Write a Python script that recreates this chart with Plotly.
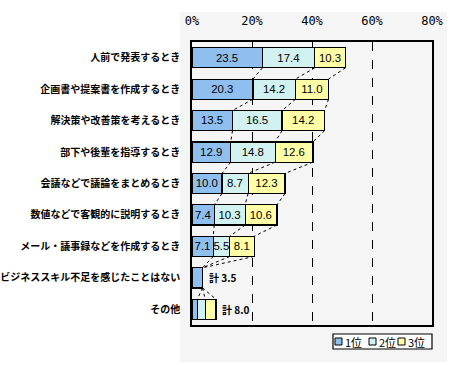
import plotly.graph_objects as go

categories = [
    "人前で発表するとき",
    "企画書や提案書を作成するとき",
    "解決策や改善策を考えるとき",
    "部下や後輩を指導するとき",
    "会議などで議論をまとめるとき",
    "数値などで客観的に説明するとき",
    "メール・議事録などを作成するとき",
    "ビジネススキル不足を感じたことはない",
    "その他",
]
rank1 = [23.5, 20.3, 13.5, 12.9, 10.0, 7.4, 7.1, 3.5, 1.8]
rank2 = [17.4, 14.2, 16.5, 14.8, 8.7, 10.3, 5.5, 0.0, 2.6]
rank3 = [10.3, 11.0, 14.2, 12.6, 12.3, 10.6, 8.1, 0.0, 3.6]
show_label = [True, True, True, True, True, True, True, False, False]
total_notes = {7: "計 3.5", 8: "計 8.0"}
series_names = ["1位", "2位", "3位"]
colors = ["#8fbfee", "#d2f1f1", "#ffffa6"]
x_ticks = [0, 20, 40, 60, 80]

ypos = list(range(len(categories)))
bar_w = 0.64

# plot area geometry in pixels (for paper-coordinate helpers)
W, H = 456, 365
L, R, T, B = 192, 24, 42, 40
PW, PH = W - L - R, H - T - B


def px(xp):
    return (xp - L) / PW


def py(yp):
    return (H - B - yp) / PH


fig = go.Figure()
for name, vals, col in zip(series_names, [rank1, rank2, rank3], colors):
    fig.add_trace(go.Bar(
        name=name, y=ypos, x=vals, orientation="h", width=bar_w,
        marker=dict(color=col, line=dict(color="black", width=1.2)),
        text=[f"{v:.1f}" if s and v > 0 else "" for v, s in zip(vals, show_label)],
        textposition="inside", insidetextanchor="middle",
        textfont=dict(family="Liberation Sans, Arial", size=12, color="black"),
        textangle=0, showlegend=False,
    ))

# series lines (dotted connectors between stacked segment ends)
cums = []
for i in range(len(categories)):
    a = rank1[i]
    b = a + rank2[i]
    c = b + rank3[i]
    cums.append([a, b, c])
shapes = []
for i in range(len(categories) - 1):
    for k in range(3):
        shapes.append(dict(
            type="line", xref="x", yref="y",
            x0=cums[i][k], y0=ypos[i] + bar_w / 2,
            x1=cums[i + 1][k], y1=ypos[i + 1] - bar_w / 2,
            line=dict(color="black", width=1, dash="dot"), layer="above",
        ))
# light dotted backdrop of the chart area
shapes.append(dict(type="rect", xref="paper", yref="paper",
                   x0=px(180), x1=px(447), y0=py(362), y1=py(12),
                   fillcolor="#f5f5f5", line=dict(width=0), layer="below"))

annotations = []
for i, txt in total_notes.items():
    annotations.append(dict(
        x=cums[i][2], y=ypos[i], xref="x", yref="y", text=txt,
        showarrow=False, xanchor="left", xshift=4,
        font=dict(family="Noto Sans CJK JP", size=10, color="black", weight="bold"),
    ))

# compact legend drawn manually
shapes.append(dict(type="rect", xref="paper", yref="paper",
                   x0=px(333), x1=px(432), y0=py(349), y1=py(334),
                   fillcolor="white", line=dict(color="black", width=1.2)))
leg_x = [335, 369, 398]
for name, col, lx in zip(series_names, colors, leg_x):
    shapes.append(dict(type="rect", xref="paper", yref="paper",
                       x0=px(lx), x1=px(lx + 7), y0=py(345), y1=py(338),
                       fillcolor=col, line=dict(color="black", width=1)))
    annotations.append(dict(x=px(lx + 8), y=py(341.5), xref="paper", yref="paper",
                            text=name, showarrow=False, xanchor="left", yanchor="middle",
                            font=dict(family="Noto Sans CJK JP", size=11, color="black")))

fig.update_layout(
    width=W, height=H,
    margin=dict(l=L, r=R, t=T, b=B),
    barmode="stack",
    paper_bgcolor="white", plot_bgcolor="white",
    shapes=shapes, annotations=annotations,
    showlegend=False,
    uniformtext=dict(minsize=11, mode="show"),
    xaxis=dict(side="top", range=[0, 80], tickvals=x_ticks,
               ticktext=[f"{t}%" for t in x_ticks],
               showgrid=True, gridcolor="black", griddash="dash", gridwidth=1,
               showline=True, linecolor="black", linewidth=1.5, mirror=True,
               ticks="", zeroline=False, ticklabelstandoff=10, automargin=False,
               tickfont=dict(family="DejaVu Sans Mono", size=12, color="black")),
    yaxis=dict(tickvals=ypos, ticktext=categories,
               range=[len(categories) - 0.5, -0.5],
               showline=True, linecolor="black", linewidth=1.5, mirror=True,
               showgrid=False, ticks="", zeroline=False, ticklabelstandoff=8,
               automargin=False,
               tickfont=dict(family="Noto Sans CJK JP", size=10, color="black", weight="bold")),
    font=dict(family="Noto Sans CJK JP", color="black"),
)

fig.write_html("out.html")
